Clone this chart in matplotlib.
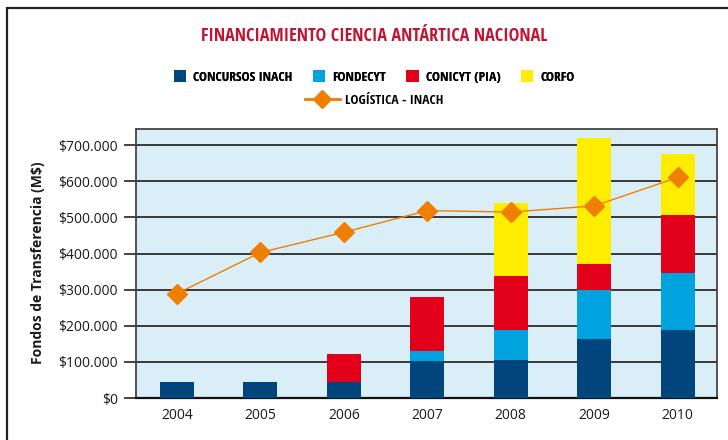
import matplotlib
matplotlib.use("Agg")
import matplotlib.pyplot as plt
from matplotlib.patches import Rectangle, Patch
from matplotlib.lines import Line2D
from matplotlib.ticker import FuncFormatter
import matplotlib.font_manager as fm

years = ["2004", "2005", "2006", "2007", "2008", "2009", "2010"]
concursos_inach = [45000, 45000, 45000, 102000, 105000, 163000, 188000]
fondecyt = [0, 0, 0, 28000, 83000, 135000, 158000]
conicyt_pia = [0, 0, 77000, 149000, 150000, 72000, 161000]
corfo = [0, 0, 0, 0, 201000, 350000, 169000]
logistica_inach = [289000, 403000, 459000, 519000, 515000, 532000, 611000]
yticks = [0, 100000, 200000, 300000, 400000, 500000, 600000, 700000]

names = {f.name for f in fm.fontManager.ttflist}


def pick(cands, default="DejaVu Sans"):
    for c in cands:
        if c in names:
            return c
    return default


cond = pick(["Open Sans Condensed", "Liberation Sans Narrow"])
body = pick(["Open Sans"])

W, H = 728, 440
fig = plt.figure(figsize=(W / 100, H / 100), dpi=100)
fig.patch.set_facecolor("white")

# outer frame
fig.add_artist(Rectangle((7 / W, -0.05), 1.0, (H - 8) / H + 0.05,
                         transform=fig.transFigure, fill=False,
                         edgecolor="#222222", lw=1.6))

left, right, top, bottom = 136, 717, 129, 398
ax = fig.add_axes([left / W, 1 - bottom / H, (right - left) / W, (bottom - top) / H])
ax.set_facecolor("#DAEEF8")

x = list(range(len(years)))
w = 0.41
cols = ["#00457C", "#00A3DD", "#E2001A", "#FFED00"]
series = [concursos_inach, fondecyt, conicyt_pia, corfo]
labels = ["CONCURSOS INACH", "FONDECYT", "CONICYT (PIA)", "CORFO"]
base = [0] * len(years)
for s, c in zip(series, cols):
    ax.bar(x, s, width=w, bottom=base, color=c, zorder=3, linewidth=0)
    base = [b + v for b, v in zip(base, s)]

ax.plot(x, logistica_inach, color="#EE7F00", lw=1.0, marker="D", markersize=10.5,
        markerfacecolor="#EE7F00", markeredgecolor="#EE7F00", zorder=5)

ax.set_xlim(-0.49, 6.47)
ax.set_ylim(0, 745000)
ax.set_yticks(yticks)
ax.yaxis.set_major_formatter(FuncFormatter(
    lambda v, p: "$" + f"{int(v):,}".replace(",", ".")))
ax.set_xticks(x)
ax.set_xticklabels(years)
ax.grid(axis="y", color="#2a2a2a", lw=1.3, zorder=1)
ax.tick_params(axis="y", length=9, width=1.2, color="#222222", pad=4, labelsize=10)
ax.tick_params(axis="x", length=0, pad=7, labelsize=10)
for lab in ax.get_xticklabels() + ax.get_yticklabels():
    lab.set_fontfamily(body)
    lab.set_color("#1a1a1a")
for sp in ax.spines.values():
    sp.set_color("#444444")
    sp.set_linewidth(1.3)
ax.spines["bottom"].set_color("#111111")
ax.spines["bottom"].set_linewidth(1.6)

fig.text(38 / W, 1 - 263 / H, "Fondos de Transferencia (M$)", rotation=90,
         ha="center", va="center", fontsize=10, fontweight="bold",
         family=body, color="#1a1a1a")

fig.text(374 / W, 1 - 36 / H, "FINANCIAMIENTO CIENCIA ANTÁRTICA NACIONAL",
         ha="center", va="center", fontsize=13, fontweight="bold",
         family=cond, color="#C41230")

handles = [Patch(facecolor=c, edgecolor="none") for c in cols]
leg1 = fig.legend(handles, labels, loc="center", bbox_to_anchor=(374 / W, 1 - 77 / H),
                  ncol=4, frameon=False, handlelength=0.95, handleheight=0.95,
                  handletextpad=0.5, columnspacing=1.5,
                  prop={"family": cond, "weight": "bold", "size": 9.7})
line_h = Line2D([0], [0], color="#EE7F00", lw=2, marker="D", markersize=9)
leg2 = fig.legend([line_h], ["LOGÍSTICA - INACH"], loc="center",
                  bbox_to_anchor=(374 / W, 1 - 100 / H), frameon=False,
                  handlelength=2.6, handletextpad=0.4,
                  prop={"family": cond, "weight": "bold", "size": 9.7})
fig.add_artist(leg1)

fig.savefig("out.png", dpi=100, facecolor="white")
